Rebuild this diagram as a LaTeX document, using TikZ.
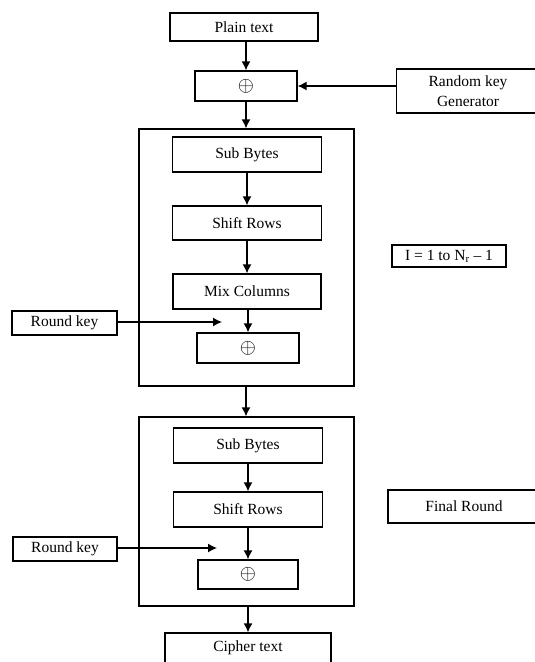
\documentclass[tikz,border=0pt]{standalone}
\usepackage{fontspec}
\setmainfont{Liberation Serif}
\usetikzlibrary{arrows.meta}
\begin{document}
\begin{tikzpicture}[x=1pt,y=-1pt,
  every node/.style={font=\fontsize{15.5}{20}\selectfont},
  blk/.style={draw, line width=1.3pt, inner sep=0pt, align=center},
  frame/.style={draw, line width=1.3pt, inner sep=0pt},
  xorsym/.style={font=\fontsize{20}{20}\selectfont},
  flow/.style={line width=1.3pt, -{Latex[length=9pt,width=9pt]}}]
\clip (0,0) rectangle (535,662);
\fill[white] (0,0) rectangle (535,662);

% input stage
\node[blk, minimum width=148pt, minimum height=28pt] (plain) at (244,27) {Plain text};
\node[blk, xorsym, minimum width=102pt, minimum height=30pt] (x1) at (246,86) {$\oplus$};
\node[blk, minimum width=143pt, minimum height=44pt] (rkg) at (468,91) {Random key\\Generator};

% main rounds
\node[frame, minimum width=215pt, minimum height=257pt] (r1) at (246.5,257.5) {};
\node[blk, minimum width=149pt, minimum height=35pt] (sb1) at (247,154.5) {Sub Bytes};
\node[blk, minimum width=149pt, minimum height=34pt] (sr1) at (247,223) {Shift Rows};
\node[blk, minimum width=148pt, minimum height=35pt] (mc) at (247,291.5) {Mix Columns};
\node[blk, xorsym, minimum width=102pt, minimum height=30pt] (x2) at (248,348) {$\oplus$};
\node[blk, minimum width=105pt, minimum height=24pt] (rk1) at (64.5,323) {Round key};
\coordinate (k1) at (222,322);
\node[blk, minimum width=114pt, minimum height=22pt] (iter) at (449,256) {I = 1 to N\textsubscript{r} -- 1};

% final round
\node[frame, minimum width=215pt, minimum height=189pt] (r2) at (246.5,511.5) {};
\node[blk, minimum width=149pt, minimum height=35pt] (sb2) at (248,445.5) {Sub Bytes};
\node[blk, minimum width=149pt, minimum height=35pt] (sr2) at (248,509.5) {Shift Rows};
\node[blk, xorsym, minimum width=100pt, minimum height=29pt] (x3) at (248,574.5) {$\oplus$};
\node[blk, minimum width=104pt, minimum height=24pt] (rk2) at (65,549) {Round key};
\coordinate (k2) at (217,548);
\node[blk, minimum width=152pt, minimum height=33pt] (final) at (464,506.5) {Final Round};

% output
\node[blk, minimum width=166pt, minimum height=30pt] (cipher) at (248,648) {Cipher text};

% connectors
\draw[flow] (plain.south -| x1.north) -- (x1.north);
\draw[flow] (rkg.west |- x1.east) -- (x1.east);
\draw[flow] (x1.south) -- (x1.south |- r1.north);
\draw[flow] (sb1.south) -- (sr1.north);
\draw[flow] (sr1.south) -- (sr1.south |- mc.north);
\draw[flow] (mc.south -| x2.north) -- (x2.north);
\draw[flow] (rk1.east |- k1) -- (k1);
\draw[flow] (r1.south -| x1.south) -- (x1.south |- r2.north);
\draw[flow] (sb2.south) -- (sr2.north);
\draw[flow] (sr2.south -| x3.north) -- (x3.north);
\draw[flow] (rk2.east |- k2) -- (k2);
\draw[flow] (r2.south -| cipher.north) -- (cipher.north);
\end{tikzpicture}
\end{document}
